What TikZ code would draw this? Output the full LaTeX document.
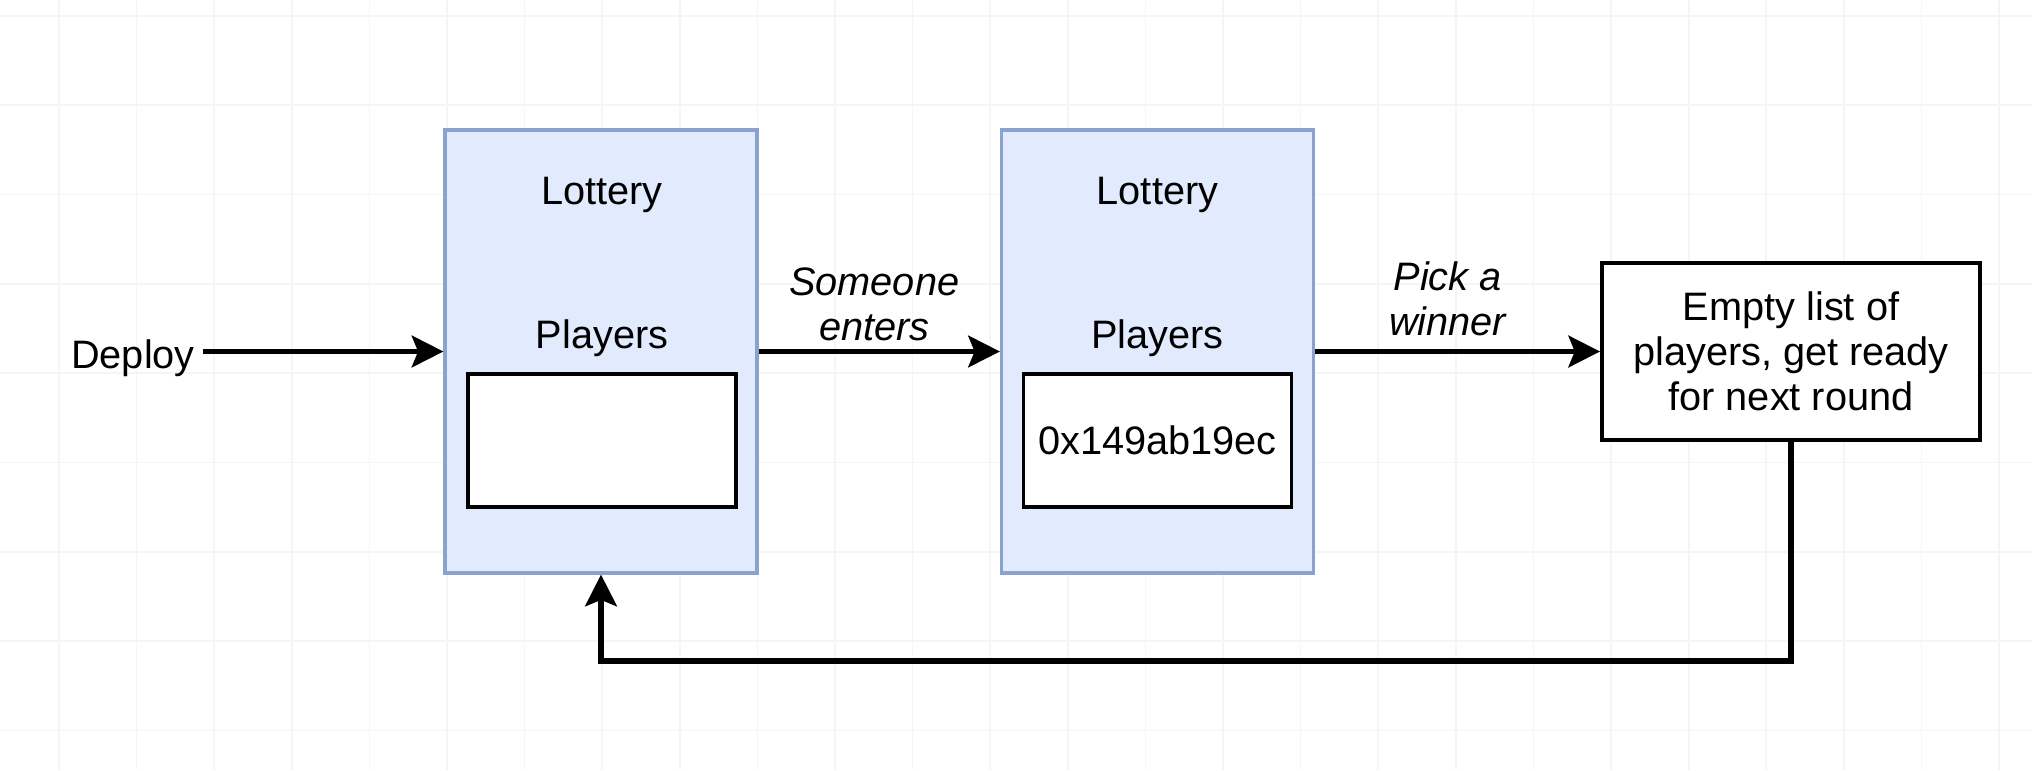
\documentclass[tikz,border=0pt]{standalone}
\usepackage{fontspec}
\setmainfont{Liberation Sans}
\usepackage{xcolor}
\usetikzlibrary{arrows.meta, positioning}

\definecolor{contractFill}{HTML}{E1EBFD}
\definecolor{contractLine}{HTML}{8AA3CE}
\definecolor{gridGray}{HTML}{F5F5F5}

\tikzset{
	txt/.style = {font=\fontsize{11.3}{12.8}\selectfont, inner sep=2pt, align=center},
	contract/.style = {draw=contractLine, line width=0.9pt, fill=contractFill, minimum width=3.12cm, minimum height=4.43cm},
	players/.style = {draw, line width=1.1pt, fill=white, minimum width=2.68cm, minimum height=1.33cm, txt},
	stepbox/.style = {draw, line width=1.1pt, fill=white, minimum width=3.78cm, minimum height=1.77cm, txt},
	flow/.style = {line width=1.5pt, -{Stealth[length=9pt, width=9pt, inset=1.8pt]}},
	gridline/.style = {gridGray, line width=0.5pt}
}

\begin{document}
\begin{tikzpicture}
		\useasboundingbox (0,0) rectangle (20.32,7.70);

		% faint canvas grid
		\foreach \gx in {0,...,25} \draw[gridline] ({0.59+0.776*\gx},0) -- ++(0,7.70);
		\foreach \gy in {0,...,8} \draw[gridline] (0,{7.54-0.893*\gy}) -- ++(20.32,0);

		\node[contract] (lottery1) at (6.01,4.185) {};
		\node[contract] (lottery2) at (11.575,4.185) {};

		\node[txt] (title1) at (6.02,5.75) {Lottery};
		\node[txt] (label1) at (6.02,4.32) {Players};
		\node[players] (list1) at (6.02,3.295) {};

		\node[txt] (title2) at (11.575,5.75) {Lottery};
		\node[txt] (label2) at (11.575,4.32) {Players};
		\node[players] (list2) at (11.575,3.295) {0x149ab19ec};

		\node[stepbox] (reset) at (17.91,4.185) {Empty list of\\players, get ready\\for next round};

		\node[txt] (deploy) at (1.33,4.12) {Deploy};

		\draw[flow] (deploy.east |- lottery1.west) -- (lottery1.west);
		\draw[flow] (lottery1.east) -- node[txt, above=0.3pt, xshift=-0.05cm] {\itshape Someone\\\itshape enters} (lottery2.west);
		\draw[flow] (lottery2.east) -- node[txt, above=1.6pt, xshift=-0.1cm] {\itshape Pick a\\\itshape winner} (reset.west);

		\coordinate (loop) at (17.91,1.09);
		\draw[flow] (reset.south) -- (loop) -- (loop -| lottery1.south) -- (lottery1.south);
	\end{tikzpicture}
\end{document}
